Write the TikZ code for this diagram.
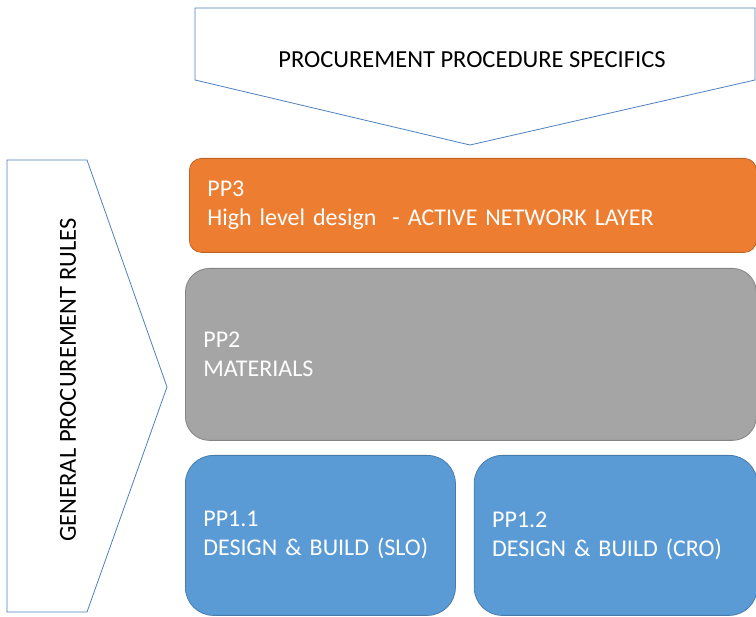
\documentclass[tikz,border=0pt]{standalone}
\usepackage{fontspec}
\setmainfont{Carlito}
\usetikzlibrary{positioning}
\definecolor{ppOrange}{HTML}{ED7D31}
\definecolor{ppGray}{HTML}{A5A5A5}
\definecolor{ppBlue}{HTML}{5B9BD5}
\definecolor{ppLine}{HTML}{4F81BD}
\tikzset{
  layer/.style={rectangle,draw=#1!80!black,fill=#1,line width=0.8pt,text=white,
    align=left,anchor=north west,inner xsep=18pt,font=\fontsize{24}{29}\selectfont},
  banner/.style={draw=ppLine,line width=0.8pt,fill=white},
  bannertext/.style={text=black,font=\fontsize{24.5}{29}\selectfont}
}
\begin{document}
\begin{tikzpicture}[x=1pt,y=-1pt]
\useasboundingbox (0,0) rectangle (756,617);
% top arrow
\draw[banner] (195,8) -- (755,8) -- (755,80) -- (470,145) -- (195,80) -- cycle;
\node[bannertext] (spec) at (472,60) {PROCUREMENT PROCEDURE SPECIFICS};
% left arrow
\draw[banner] (7,160) -- (87,160) -- (167,387) -- (87,612) -- (7,612) -- cycle;
\node[bannertext,rotate=90] (rules) at (68,380) {GENERAL PROCUREMENT RULES};
% layers
\node[layer=ppOrange,rounded corners=12pt,minimum width=567pt,minimum height=94pt,
  text width=531pt] (pp3) at (189,158) {PP3\\High level design \ - ACTIVE NETWORK LAYER};
\node[layer=ppGray,rounded corners=24pt,minimum width=571pt,minimum height=172pt,
  text width=535pt] (pp2) at (185,268) {PP2\\MATERIALS};
\node[layer=ppBlue,rounded corners=28pt,minimum width=270pt,minimum height=160pt,
  text width=234pt] (pp11) at (185,455) {PP1.1\\DESIGN \& BUILD (SLO)};
\node[layer=ppBlue,rounded corners=28pt,minimum width=283pt,minimum height=160pt,
  text width=247pt,right=18pt of pp11.north east,anchor=north west] (pp12) {PP1.2\\DESIGN \& BUILD (CRO)};
\end{tikzpicture}
\end{document}
